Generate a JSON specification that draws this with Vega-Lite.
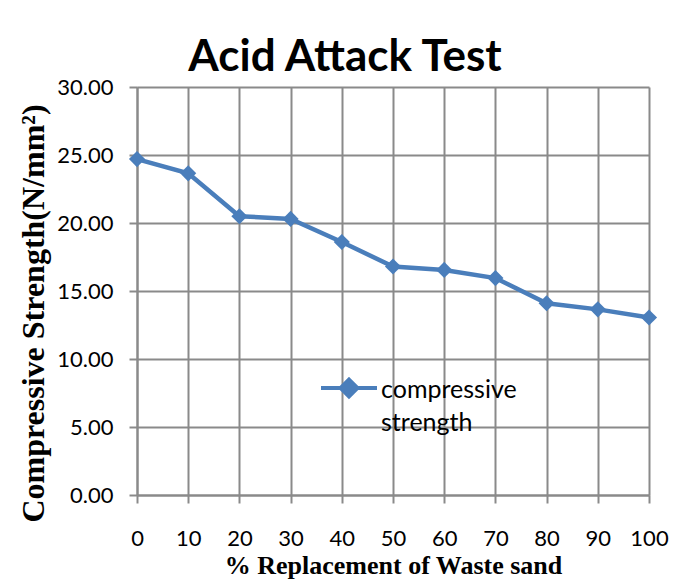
{
  "$schema": "https://vega.github.io/schema/vega-lite/v6.json",
  "width": 512,
  "height": 408,
  "autosize": "none",
  "padding": {"left": 137, "top": 87, "right": 30, "bottom": 90},
  "background": "white",
  "title": {"text": "Acid Attack Test", "font": "Lato", "fontSize": 44, "fontWeight": "bold", "anchor": "middle", "frame": "group", "dx": -48, "offset": -4, "color": "black"},
  "data": {"values": [
    {"pct": 0, "strength": 24.7, "series": "compressive strength"},
    {"pct": 10, "strength": 23.65, "series": "compressive strength"},
    {"pct": 20, "strength": 20.5, "series": "compressive strength"},
    {"pct": 30, "strength": 20.3, "series": "compressive strength"},
    {"pct": 40, "strength": 18.6, "series": "compressive strength"},
    {"pct": 50, "strength": 16.8, "series": "compressive strength"},
    {"pct": 60, "strength": 16.55, "series": "compressive strength"},
    {"pct": 70, "strength": 15.95, "series": "compressive strength"},
    {"pct": 80, "strength": 14.1, "series": "compressive strength"},
    {"pct": 90, "strength": 13.65, "series": "compressive strength"},
    {"pct": 100, "strength": 13.05, "series": "compressive strength"}
  ]},
  "mark": {"type": "line", "strokeWidth": 4.5, "point": {"shape": "diamond", "size": 260, "filled": true, "opacity": 1}},
  "encoding": {
    "x": {"field": "pct", "type": "quantitative",
      "scale": {"domain": [0, 100], "nice": false, "zero": false},
      "axis": {"title": "%  Replacement of Waste sand", "values": [0,10,20,30,40,50,60,70,80,90,100], "format": "d",
        "titleFont": "Liberation Serif", "titleFontSize": 26, "titleFontWeight": "bold", "titleColor": "black", "titlePadding": 3,
        "labelFont": "Lato", "labelFontSize": 22, "labelColor": "black", "labelPadding": 25, "labelFlush": false,
        "tickSize": 8, "tickColor": "#8a8a8a", "tickWidth": 2, "domainColor": "#8a8a8a", "domainWidth": 2,
        "grid": true, "gridColor": "#8a8a8a", "gridWidth": 2}},
    "y": {"field": "strength", "type": "quantitative",
      "scale": {"domain": [0, 30], "nice": false},
      "axis": {"title": "Compressive Strength(N/mm²)", "values": [0,5,10,15,20,25,30], "format": ".2f",
        "titleFont": "Liberation Serif", "titleFontSize": 32, "titleFontWeight": "bold", "titleColor": "black", "titlePadding": 6, "titleY": 226,
        "labelFont": "Lato", "labelFontSize": 22, "labelColor": "black", "labelPadding": 16, "labelFlush": false,
        "tickSize": 8, "tickColor": "#8a8a8a", "tickWidth": 2, "domainColor": "#8a8a8a", "domainWidth": 2,
        "grid": true, "gridColor": "#8a8a8a", "gridWidth": 2}},
    "color": {"field": "series", "type": "nominal", "scale": {"range": ["#4a7ebb"]},
      "legend": {"title": null, "orient": "none", "legendX": 182, "legendY": 261,
        "symbolType": "M-1,0.36H1M0,0.06L0.3,0.36L0,0.66L-0.3,0.36Z", "symbolSize": 3136,
        "symbolFillColor": "#4a7ebb", "symbolStrokeColor": "#4a7ebb", "symbolStrokeWidth": 4,
        "labelExpr": "split(datum.label, ' ')", "labelFont": "Lato", "labelFontSize": 25, "labelColor": "black",
        "labelBaseline": "top", "labelOffset": 2, "labelLimit": 300}}
  },
  "config": {"view": {"stroke": null}, "style": {"guide-label": {"lineHeight": 33}}}
}
